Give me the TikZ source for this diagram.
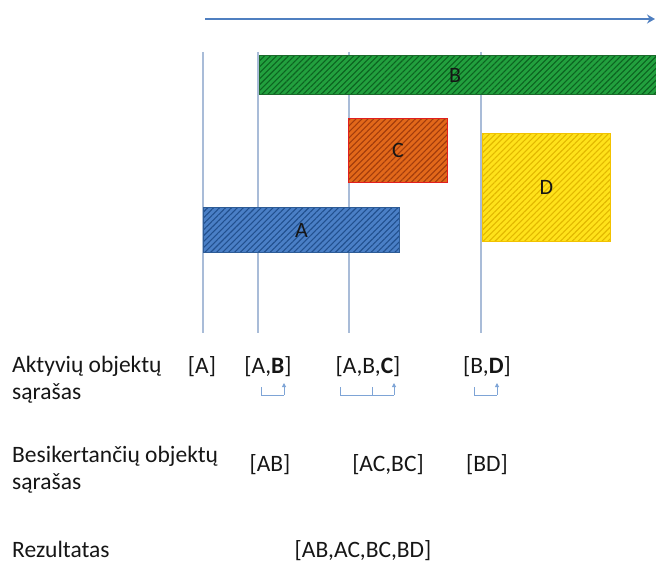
\documentclass[tikz,border=0pt]{standalone}
\usepackage{fontspec}
\setmainfont{Carlito}
\usetikzlibrary{arrows.meta,patterns.meta}

\definecolor{axisblue}{HTML}{4F7FC0}
\definecolor{gridline}{HTML}{A9BCD8}
\definecolor{bracketblue}{HTML}{7EA4D6}
\definecolor{labeltext}{HTML}{161616}
\definecolor{Afill}{HTML}{4A7FC6}
\definecolor{Ahatch}{HTML}{22508E}
\definecolor{Aedge}{HTML}{2E5C96}
\definecolor{Bfill}{HTML}{22A03E}
\definecolor{Bhatch}{HTML}{0C6320}
\definecolor{Bedge}{HTML}{1C6A2C}
\definecolor{Cfill}{HTML}{E2681A}
\definecolor{Chatch}{HTML}{A23C0C}
\definecolor{Cedge}{HTML}{E21E1E}
\definecolor{Dfill}{HTML}{FFE21A}
\definecolor{Dhatch}{HTML}{E2B800}
\definecolor{Dedge}{HTML}{F2C200}

\tikzset{
  interval/.style n args={3}{draw=#3, line width=1pt, inner sep=0pt, anchor=north west,
    preaction={fill=#1},
    pattern={Lines[angle=45,distance=4.2pt,line width=1.1pt]}, pattern color=#2,
    font=\fontsize{22}{26}\selectfont, text=labeltext},
  sweepline/.style={draw=gridline, line width=1.2pt},
  rowtitle/.style={anchor=north west, align=left, inner sep=0pt,
    font=\fontsize{23.5}{27}\selectfont, text=labeltext},
  listtext/.style={anchor=base, inner sep=0pt,
    font=\fontsize{23.5}{27}\selectfont, text=labeltext},
  shiftlink/.style={draw=bracketblue, line width=0.9pt},
  shiftarrow/.style={draw=bracketblue, line width=0.9pt,
    -{Triangle[length=4pt,width=4pt]}},
}

\begin{document}
\begin{tikzpicture}[x=1pt,y=-1pt]
\useasboundingbox (0,0) rectangle (656,564);

% time axis
\coordinate (t0) at (205,19);
\coordinate (t1) at (655,19);
\draw[draw=axisblue, line width=2pt, -{Stealth[length=8pt,width=9pt]}] (t0) -- (t1);

% sweep lines at the left ends of the intervals
\foreach \name/\x in {sA/203, sB/258, sC/349, sD/481} {
  \coordinate (\name top) at (\x,52);
  \coordinate (\name bot) at (\x,333);
  \draw[sweepline] (\name top) -- (\name bot);
}

% intervals
\node[interval={Bfill}{Bhatch}{Bedge}, minimum width=399pt, minimum height=39pt] (B) at (259,55) {\hspace*{-8pt}B};
\node[interval={Cfill}{Chatch}{Cedge}, minimum width=99pt, minimum height=64pt] (C) at (348,118) {C};
\node[interval={Dfill}{Dhatch}{Dedge}, minimum width=128pt, minimum height=108pt] (D) at (482,133) {D};
\node[interval={Afill}{Ahatch}{Aedge}, minimum width=196pt, minimum height=45pt] (A) at (203,207) {A};

% row titles
\node[rowtitle] (active) at (12,356) {Aktyvių objektų\\sąrašas};
\node[rowtitle] (cross) at (12,446) {Besikertančių objektų\\sąrašas};
\node[rowtitle] (result) at (12,541) {Rezultatas};

% active lists
\node[listtext] (act1) at (202,373) {[A]};
\node[listtext] (act2) at (268,373) {[A,\textbf{B}]};
\node[listtext] (act3) at (368,373) {[A,B,\textbf{C}]};
\node[listtext] (act4) at (487,373) {[B,\textbf{D}]};

% intersecting pairs
\node[listtext] (cr1) at (270,471) {[AB]};
\node[listtext] (cr2) at (388,471) {[AC,BC]};
\node[listtext] (cr3) at (487,471) {[BD]};

% result
\node[listtext] (res) at (363,557) {[AB,AC,BC,BD]};

% pairing marks under the active lists
\coordinate (p1a) at (261,387); \coordinate (p1b) at (261,395);
\coordinate (p1c) at (284,395); \coordinate (p1d) at (284,383);
\draw[shiftlink] (p1a) -- (p1b) -- (p1c);
\draw[shiftarrow] (p1c) -- (p1d);

\coordinate (p2a) at (340,387); \coordinate (p2b) at (340,395);
\coordinate (p2m) at (372,387); \coordinate (p2n) at (372,395);
\coordinate (p2c) at (394,395); \coordinate (p2d) at (394,383);
\draw[shiftlink] (p2a) -- (p2b) -- (p2c);
\draw[shiftlink] (p2m) -- (p2n);
\draw[shiftarrow] (p2c) -- (p2d);

\coordinate (p3a) at (474,387); \coordinate (p3b) at (474,395);
\coordinate (p3c) at (497,395); \coordinate (p3d) at (497,383);
\draw[shiftlink] (p3a) -- (p3b) -- (p3c);
\draw[shiftarrow] (p3c) -- (p3d);
\end{tikzpicture}
\end{document}
